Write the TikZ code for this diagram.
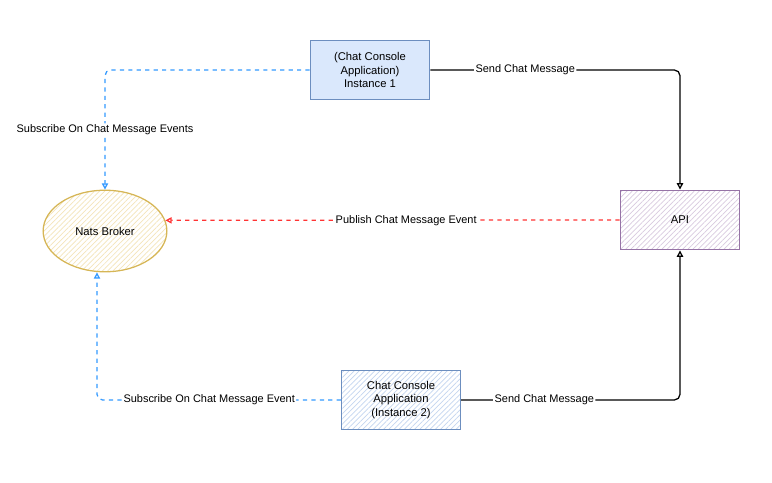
\documentclass[tikz,border=0pt]{standalone}
\usepackage{fontspec}
\setmainfont{Liberation Sans}
\usepackage{tikz}
\usetikzlibrary{shapes,arrows.meta,positioning,patterns.meta,calc}
\definecolor{boxblue}{HTML}{DAE8FC}
\definecolor{edgeblue}{HTML}{6C8EBF}
\definecolor{boxyellow}{HTML}{FFF2CC}
\definecolor{edgeyellow}{HTML}{D6B656}
\definecolor{boxpurple}{HTML}{E1D5E7}
\definecolor{edgepurple}{HTML}{9673A6}
\definecolor{subblue}{HTML}{3399FF}
\definecolor{pubred}{HTML}{FF3333}
\tikzstyle{box} = [draw, rectangle, minimum width=85pt, minimum height=42.5pt, align=center, line width=0.8pt]
\tikzstyle{hatch} = [preaction={fill=white}, pattern={Lines[angle=45,distance=2.6pt,line width=0.5pt]}, pattern color=#1]
\tikzstyle{line} = [draw, line width=0.9pt, rounded corners=4pt]
\tikzstyle{lbl} = [fill=white, inner sep=1pt, font=\fontsize{7.8}{9}\selectfont]
\tikzset{>={Triangle[open,length=4.5pt,width=4.5pt]}}

\begin{document}
\begin{tikzpicture}[x=0.025cm,y=-0.025cm,font=\fontsize{8}{9.6}\selectfont]
    \useasboundingbox (0,0) rectangle (772,482);
    % nodes
    \node [box, fill=boxblue, draw=edgeblue] (inst1) at (370,70) {(Chat Console\\Application)\\Instance 1};
    \node [box, draw=edgeblue, hatch=boxblue!80!edgeblue] (inst2) at (401,400) {Chat Console\\Application\\(Instance 2)};
    \node [draw=edgeyellow, ellipse, hatch=boxyellow!60!edgeyellow!70, line width=0.9pt, minimum width=88pt, minimum height=58pt] (nats) at (105,231) {Nats Broker};
    \node [box, draw=edgepurple, hatch=boxpurple!90!edgepurple] (api) at (680,220) {API};
    % connectors
    \draw [line, ->, subblue, dashed] (inst1.west) -| node [pos=0.75, lbl, text=black] {Subscribe On Chat Message Events} (nats.north);
    \draw [line, ->] (inst1.east) -| node [pos=0.19, lbl] {Send Chat Message} (api.north);
    \draw [line, ->, pubred, dashed] (api.west) -- node [pos=0.47, lbl, text=black] {Publish Chat Message Event} (nats.10);
    \draw [line, ->, subblue, dashed] (inst2.west) -| node [pos=0.27, lbl, text=black] {Subscribe On Chat Message Event} ([xshift=-5.7pt]nats.south);
    \draw [line, ->] (inst2.east) -| node [pos=0.19, lbl] {Send Chat Message} (api.south);
\end{tikzpicture}
\end{document}
